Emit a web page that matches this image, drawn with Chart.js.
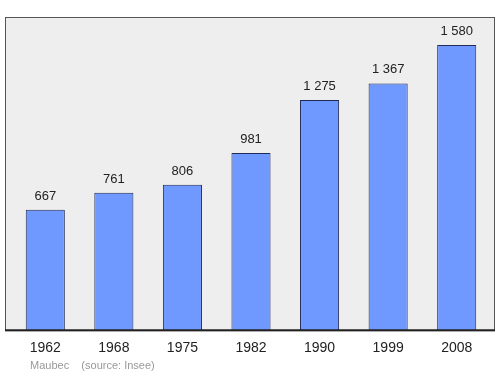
<!DOCTYPE html>
<html>
<head>
<meta charset="utf-8">
<script src="https://cdn.jsdelivr.net/npm/chart.js@4/dist/chart.umd.min.js"></script>
<style>
  html, body { margin: 0; padding: 0; background: #fff; }
  #wrap { width: 500px; height: 374px; }
</style>
</head>
<body>
<div id="wrap"><canvas id="popChart" width="500" height="374"></canvas></div>
<script>
// years and population (Maubec, source Insee)
const years = ['1962', '1968', '1975', '1982', '1990', '1999', '2008'];
const population = [667, 761, 806, 981, 1275, 1367, 1580];
const footerText = 'Maubec    (source: Insee)';

function fmt(n) {
    // french style thousands separator
    return n.toString().replace(/\B(?=(\d{3})+(?!\d))/g, ' ');
}

// grey plot box with frame, drawn behind the bars
const frameBox = {
    id: 'frameBox',
    beforeDatasetsDraw(chart) {
        const ctx = chart.ctx;
        const a = chart.chartArea;
        ctx.save();
        ctx.fillStyle = '#eeeeee';
        ctx.fillRect(5, a.top, 490, a.bottom - a.top);
        ctx.restore();
    },
    afterDatasetsDraw(chart) {
        const ctx = chart.ctx;
        const a = chart.chartArea;
        ctx.save();
        ctx.strokeStyle = '#555555';
        ctx.lineWidth = 1;
        ctx.strokeRect(5.5, a.top + 0.5, 489, a.bottom - a.top);
        ctx.strokeStyle = '#222222';
        ctx.lineWidth = 2;
        ctx.beginPath();
        ctx.moveTo(5, a.bottom);
        ctx.lineTo(495, a.bottom);
        ctx.stroke();

        // value labels above the bars
        ctx.fillStyle = '#222222';
        ctx.font = '13px "Liberation Sans", Arial, sans-serif';
        ctx.textAlign = 'center';
        ctx.textBaseline = 'alphabetic';
        const meta = chart.getDatasetMeta(0);
        meta.data.forEach((bar, i) => {
            ctx.fillText(fmt(population[i]), bar.x, bar.y - 10);
        });

        // source line
        ctx.fillStyle = '#999999';
        ctx.font = '11px "Liberation Sans", Arial, sans-serif';
        ctx.textAlign = 'left';
        ctx.fillText(footerText, 30, 369);
        ctx.restore();
    }
};

let ctx = document.getElementById('popChart').getContext('2d');
let popChart = new Chart(ctx, {
    type: 'bar',
    data: {
        labels: years,
        datasets: [{
            data: population,
            backgroundColor: '#7099ff',
            borderColor: '#1f2a55',
            borderWidth: 1,
            barPercentage: 0.57,
            categoryPercentage: 1.0
        }]
    },
    options: {
        responsive: false,
        animation: false,
        layout: {
            padding: { left: 11, right: 9, top: 17, bottom: 15 }
        },
        plugins: {
            legend: { display: false },
            tooltip: { enabled: false }
        },
        scales: {
            x: {
                grid: { display: false },
                border: { display: false },
                ticks: {
                    color: '#222222',
                    padding: 2,
                    font: { family: '"Liberation Sans", Arial, sans-serif', size: 14 }
                }
            },
            y: {
                display: false,
                min: 0,
                max: 1735
            }
        }
    },
    plugins: [frameBox]
});
</script>
</body>
</html>
